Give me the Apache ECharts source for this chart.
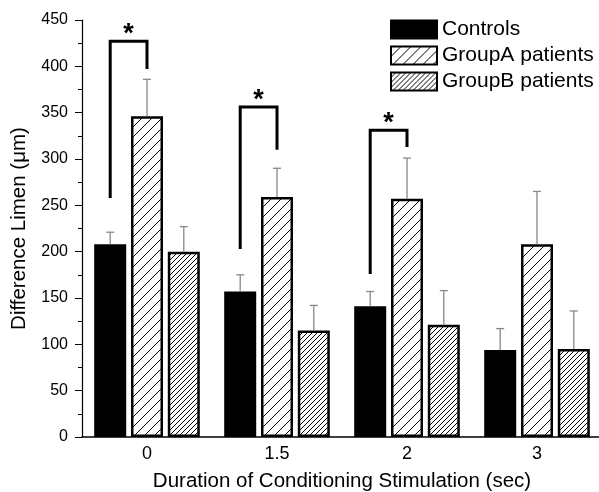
<!DOCTYPE html>
<html>
<head>
<meta charset="utf-8">
<script src="https://cdn.jsdelivr.net/npm/echarts@6/dist/echarts.min.js"></script>
<style>
  html, body { margin: 0; padding: 0; background: #fff; }
  #chart { width: 599px; height: 492px; }
</style>
</head>
<body>
<div id="chart"></div>
<script>
// data
const categories = ['0', '1.5', '2', '3'];
const seriesNames = ['Controls', 'GroupA patients', 'GroupB patients'];
const controls = [208, 157, 141, 94];
const groupA = [346, 259, 257, 208];
const groupB = [200, 115, 121, 95];
const controlsErr = [13, 18, 16, 23];
const groupAErr = [40, 31, 44, 57];
const groupBErr = [27, 27, 37, 41];
// significance brackets: [category, left end, top, right end]
const brackets = [
  [0, 258, 427, 397],
  [1, 203, 356, 310],
  [2, 176, 331, 313]
];

const BAR_W = 32;
const BAR_GAP = 0.15;
const STEP = BAR_W * (1 + BAR_GAP); // distance between bar centres
const FONT = 'Liberation Sans, Arial, sans-serif';

function hatch(spacing) {
  const c = document.createElement('canvas');
  c.width = spacing; c.height = spacing;
  const ctx = c.getContext('2d');
  ctx.fillStyle = '#fff';
  ctx.fillRect(0, 0, spacing, spacing);
  ctx.strokeStyle = '#000';
  ctx.lineWidth = 1;
  ctx.beginPath();
  ctx.moveTo(0, spacing); ctx.lineTo(spacing, 0);
  ctx.moveTo(-1, 1); ctx.lineTo(1, -1);
  ctx.moveTo(spacing - 1, spacing + 1); ctx.lineTo(spacing + 1, spacing - 1);
  ctx.stroke();
  return { image: c, repeat: 'repeat' };
}

const errData = [];
[[controls, controlsErr], [groupA, groupAErr], [groupB, groupBErr]].forEach((pair, g) => {
  pair[0].forEach((v, i) => errData.push([i, g, v, pair[1][i]]));
});

const myChart = echarts.init(document.getElementById('chart'));
const option = {
  animation: false,
  backgroundColor: '#fff',
  textStyle: { fontFamily: FONT },
  legend: {
    data: seriesNames,
    orient: 'vertical',
    icon: 'rect',
    left: 385,
    top: 14,
    itemWidth: 46,
    itemHeight: 18,
    itemGap: 5,
    textStyle: { fontSize: 21, color: '#000', fontFamily: FONT }
  },
  grid: { left: 82, top: 20, width: 520, height: 417, outerBoundsMode: 'none', containLabel: false },
  xAxis: {
    type: 'category',
    data: categories,
    name: 'Duration of Conditioning Stimulation (sec)',
    nameLocation: 'middle',
    nameGap: 34,
    nameTextStyle: { fontSize: 20.5, color: '#000', fontFamily: FONT },
    axisLine: { lineStyle: { color: '#000', width: 1.5 } },
    axisTick: { show: false },
    axisLabel: { fontSize: 18, color: '#000', margin: 8, fontFamily: FONT }
  },
  yAxis: {
    type: 'value',
    min: 0,
    max: 450,
    interval: 50,
    name: 'Difference Limen (μm)',
    nameLocation: 'middle',
    nameGap: 52,
    nameTextStyle: { fontSize: 20.5, color: '#000', fontFamily: FONT },
    axisLine: { show: true, lineStyle: { color: '#000', width: 1.2 } },
    axisTick: { show: true, inside: false, length: 7, lineStyle: { color: '#000' } },
    minorTick: { show: true, splitNumber: 2, length: 4, lineStyle: { color: '#000' } },
    splitLine: { show: false },
    axisLabel: { fontSize: 16, color: '#000', margin: 14, fontFamily: FONT }
  },
  series: [
    {
      name: seriesNames[0], type: 'bar', data: controls,
      barWidth: BAR_W, barGap: (BAR_GAP * 100) + '%',
      itemStyle: { color: '#000', borderColor: '#000', borderWidth: 2 }
    },
    {
      name: seriesNames[1], type: 'bar', data: groupA,
      barWidth: BAR_W,
      itemStyle: { color: hatch(10), borderColor: '#000', borderWidth: 2.5 }
    },
    {
      name: seriesNames[2], type: 'bar', data: groupB,
      barWidth: BAR_W,
      itemStyle: { color: hatch(5), borderColor: '#000', borderWidth: 2.5 }
    },
    {
      // error bars (upper half only)
      type: 'custom',
      data: errData,
      z: 5,
      renderItem: function (params, api) {
        const cat = api.value(0);
        const g = api.value(1);
        const base = api.coord([cat, api.value(2)]);
        const top = api.coord([cat, api.value(2) + api.value(3)]);
        const x = base[0] + (g - 1) * STEP;
        const style = { stroke: '#888', lineWidth: 1.3 };
        return {
          type: 'group',
          children: [
            { type: 'line', shape: { x1: x, y1: base[1], x2: x, y2: top[1] }, style: style },
            { type: 'line', shape: { x1: x - 4, y1: top[1], x2: x + 4, y2: top[1] }, style: style }
          ]
        };
      }
    },
    {
      // significance brackets
      type: 'custom',
      data: brackets,
      z: 6,
      renderItem: function (params, api) {
        const cat = api.value(0);
        const l = api.coord([cat, api.value(1)]);
        const t = api.coord([cat, api.value(2)]);
        const r = api.coord([cat, api.value(3)]);
        const xl = l[0] - STEP;
        const xr = l[0];
        return {
          type: 'group',
          children: [
            {
              type: 'polyline',
              shape: { points: [[xl, l[1]], [xl, t[1]], [xr, t[1]], [xr, r[1]]] },
              style: { stroke: '#000', lineWidth: 3, fill: null }
            },
            {
              type: 'text',
              style: {
                x: (xl + xr) / 2, y: t[1] + 7, text: '*',
                fontSize: 27, fontWeight: 'bold', fontFamily: FONT,
                fill: '#000', align: 'center', verticalAlign: 'bottom'
              }
            }
          ]
        };
      }
    }
  ]
};
myChart.setOption(option);
window.addEventListener('resize', function () {
  myChart.resize();
});
</script>
</body>
</html>
